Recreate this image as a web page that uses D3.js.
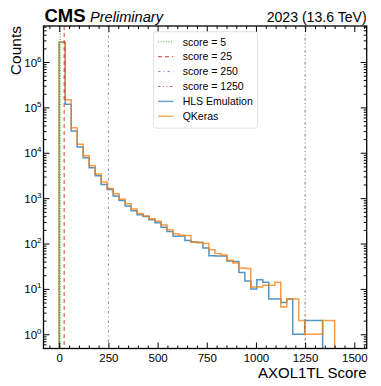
<!DOCTYPE html>
<html><head><meta charset="utf-8">
<script src="https://cdn.jsdelivr.net/npm/d3@7"></script>
<style>
html,body{margin:0;padding:0;background:#fff;}
svg{display:block;font-family:"Liberation Sans",Arial,Helvetica,sans-serif;}
</style></head>
<body><svg id="c" width="381" height="386"></svg>
<script>
// ---- data ----
const binEdges = [0, 30.4, 60.9, 91.3, 121.7, 152.2, 182.6, 213.0, 243.5, 273.9, 304.3, 334.8, 365.2, 395.7, 426.1, 456.5, 487.0, 517.4, 547.8, 578.3, 608.7, 639.1, 669.6, 700.0, 730.4, 760.9, 791.3, 821.7, 852.2, 882.6, 913.0, 943.5, 973.9, 1004.3, 1034.8, 1065.2, 1095.7, 1126.1, 1156.5, 1187.0, 1217.4, 1247.8, 1278.3, 1308.7, 1339.1, 1369.6, 1400.0];
const hlsCounts = [2720000, 117000, 30000, 13400, 7800, 4700, 3100, 2000, 1550, 1120, 890, 675, 525, 433, 395, 333, 288, 229, 183, 145, 146, 116, 108, 106, 80, 54, 53, 53, 41, 40, 23, 15, 10, 16, 14, 6, 6, 5, 6, 1, 1, 2, 2, 2, 0, 0];
const qkerasCounts = [2740000, 148000, 35600, 15400, 8600, 5200, 3400, 2270, 1630, 1245, 950, 755, 575, 460, 402, 350, 308, 256, 200, 165, 152, 150, 108, 106, 100, 73, 60, 56, 43, 37, 29, 28, 11, 11, 12, 12, 14, 4, 6, 6, 2, 1, 1, 1, 2, 2];
const seriesNames = ["HLS Emulation", "QKeras"];
const thresholds = [5, 25, 250, 1250];
const thresholdLabels = ["score = 5", "score = 25", "score = 250", "score = 1250"];
const xTicks = [0, 250, 500, 750, 1000, 1250, 1500];
const yTickExps = [0, 1, 2, 3, 4, 5, 6];

// ---- layout ----
const L = 43.5, R = 366.7, T = 26, B = 348.5;
const svg = d3.select("#c");
const x = d3.scaleLinear().domain([-80, 1563]).range([L, R]);
const y = d3.scaleLog().domain([0.486, 6.22e6]).range([B, T]);

const thrColors = ["#2ca02c", "#d62728", "#9467bd", "#8c564b"];
const thrDash = ["1,1.6", "4,3", "2.5,3,1,3", "2.5,2.5,1,2.5,1,2.5"];
const serColors = ["#1f77b4", "#ff7f0e"];

svg.append("defs").append("clipPath").attr("id", "clip")
  .append("rect").attr("x", L).attr("y", T).attr("width", R - L).attr("height", B - T);
const plot = svg.append("g").attr("clip-path", "url(#clip)");

// histograms
function stepPts(counts) {
  const yb = B + 10;
  const pts = [[x(binEdges[0]), yb]];
  counts.forEach((c, i) => {
    const yy = c > 0 ? y(c) : yb;
    pts.push([x(binEdges[i]), yy]);
    pts.push([x(binEdges[i + 1]), yy]);
  });
  pts.push([x(binEdges[binEdges.length - 1]), yb]);
  return pts;
}
const line = d3.line();
[hlsCounts, qkerasCounts].forEach((cs, i) => {
  plot.append("path").attr("d", line(stepPts(cs)))
    .attr("fill", "none").attr("stroke", serColors[i]).attr("stroke-width", 1.5)
    .attr("stroke-opacity", 0.78).attr("stroke-linejoin", "miter");
});

// threshold lines
thresholds.forEach((t, i) => {
  plot.append("line").attr("x1", x(t)).attr("x2", x(t)).attr("y1", T).attr("y2", B)
    .attr("stroke", thrColors[i]).attr("stroke-width", 1)
    .attr("stroke-opacity", 0.9)
    .attr("stroke-dasharray", thrDash[i]);
});

// axes
const fontTick = "11.5px";
const xAx = svg.append("g").attr("transform", `translate(0,${B})`)
  .call(d3.axisBottom(x).tickValues(xTicks).tickSize(-6).tickPadding(5).tickFormat(d3.format("d")));
xAx.selectAll("text").attr("font-size", fontTick).attr("fill", "#000").attr("font-family", "Liberation Sans, Arial, sans-serif");
const minorX = d3.range(-50, 1551, 50).filter(v => v % 250 !== 0);
svg.append("g").attr("transform", `translate(0,${B})`)
  .call(d3.axisBottom(x).tickValues(minorX).tickSize(-3).tickFormat(""));
svg.append("g").attr("transform", `translate(0,${T})`)
  .call(d3.axisTop(x).tickValues(xTicks).tickSize(-6).tickFormat(""));
svg.append("g").attr("transform", `translate(0,${T})`)
  .call(d3.axisTop(x).tickValues(minorX).tickSize(-3).tickFormat(""));

const majorY = yTickExps.map(e => Math.pow(10, e));
const minorY = [];
for (let e = -1; e <= 6; e++) for (let m = 2; m <= 9; m++) {
  const v = m * Math.pow(10, e);
  if (v >= 0.486 && v <= 6.22e6) minorY.push(v);
}
svg.append("g").attr("transform", `translate(${L},0)`)
  .call(d3.axisLeft(y).tickValues(majorY).tickSize(-6).tickFormat(""));
svg.append("g").attr("transform", `translate(${L},0)`)
  .call(d3.axisLeft(y).tickValues(minorY).tickSize(-3).tickFormat(""));
svg.append("g").attr("transform", `translate(${R},0)`)
  .call(d3.axisRight(y).tickValues(majorY).tickSize(-6).tickFormat(""));
svg.append("g").attr("transform", `translate(${R},0)`)
  .call(d3.axisRight(y).tickValues(minorY).tickSize(-3).tickFormat(""));
svg.selectAll(".domain").remove();
svg.selectAll(".tick line").attr("stroke", "#000").attr("stroke-width", 1);

// y tick labels 10^e
yTickExps.forEach(e => {
  const t = svg.append("text").attr("x", 41.5).attr("y", y(Math.pow(10, e)) + 4.5)
    .attr("text-anchor", "end").attr("font-size", fontTick).attr("fill", "#000");
  t.append("tspan").text("10");
  t.append("tspan").attr("dy", -5).attr("font-size", "8px").text(e);
});

// frame
svg.append("rect").attr("x", L).attr("y", T).attr("width", R - L).attr("height", B - T)
  .attr("fill", "none").attr("stroke", "#000").attr("stroke-width", 1.3);

// labels
svg.append("text").attr("x", R).attr("y", 378).attr("text-anchor", "end")
  .attr("font-size", "15px").attr("fill", "#000").text("AXOL1TL Score");
svg.append("text").attr("transform", `translate(21.3,${T}) rotate(-90)`).attr("text-anchor", "end")
  .attr("font-size", "15.5px").attr("fill", "#000").text("Counts");
svg.append("text").attr("x", 44.5).attr("y", 21.7).attr("font-size", "18.5px")
  .attr("font-weight", "bold").attr("fill", "#000").text("CMS");
svg.append("text").attr("x", 90).attr("y", 21.7).attr("font-size", "14.6px")
  .attr("font-style", "italic").attr("fill", "#000").text("Preliminary");
svg.append("text").attr("x", R).attr("y", 21.5).attr("text-anchor", "end")
  .attr("font-size", "14.1px").attr("fill", "#000").text("2023 (13.6 TeV)");

// legend
const lg = svg.append("g");
lg.append("rect").attr("x", 153.5).attr("y", 31.7).attr("width", 104).attr("height", 96.5)
  .attr("rx", 2.5).attr("fill", "#fff").attr("fill-opacity", 0.8)
  .attr("stroke", "#d9d9d9").attr("stroke-width", 0.8);
const rows = thresholdLabels.map((lab, i) => ({lab, color: thrColors[i], dash: thrDash[i], op: 0.9, w: 1}))
  .concat(seriesNames.map((lab, i) => ({lab, color: serColors[i], dash: null, op: 0.65, w: 1.5})));
rows.forEach((r, i) => {
  const cy = 41.8 + i * 14.9;
  lg.append("line").attr("x1", 158).attr("x2", 173.5).attr("y1", cy).attr("y2", cy)
    .attr("stroke", r.color).attr("stroke-width", r.w).attr("stroke-opacity", r.op)
    .attr("stroke-dasharray", r.dash);
  lg.append("text").attr("x", 182.7).attr("y", cy + 3.7).attr("font-size", "10.5px")
    .attr("fill", "#000").text(r.lab);
});
</script></body></html>
